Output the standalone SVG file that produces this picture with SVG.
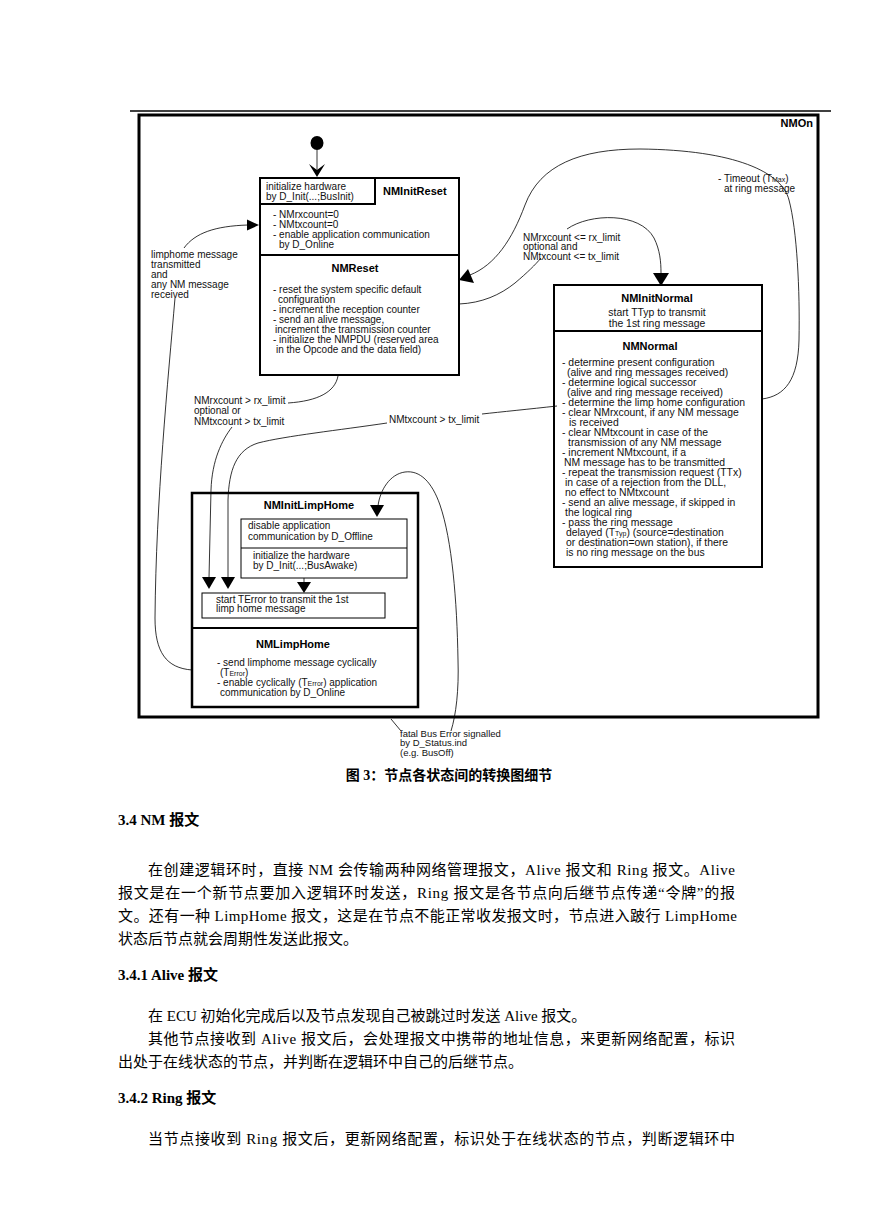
<svg xmlns="http://www.w3.org/2000/svg" width="869" height="1228" viewBox="0 0 869 1228">
<style>
.t{font-family:"Liberation Sans",Arial,sans-serif;font-size:10px;fill:#111}
.n{font-family:"Liberation Sans",Arial,sans-serif;font-size:10.4px;fill:#111}
.s{font-family:"Liberation Sans",Arial,sans-serif;font-size:9.5px;fill:#111}
.b{font-family:"Liberation Sans",Arial,sans-serif;font-size:11px;font-weight:bold;fill:#000}
.m{text-anchor:middle}
.sub{font-size:7px}
.box{fill:#fff;stroke:#000;stroke-width:2}
.thin{fill:#fff;stroke:#000;stroke-width:1}
.con{fill:none;stroke:#000;stroke-width:0.8}
.ah{fill:#000;stroke:none}
.p{font-family:"Liberation Serif","Times New Roman","Noto Sans CJK SC",serif;font-size:15px;fill:#000}
.h{font-family:"Liberation Serif","Times New Roman","Noto Sans CJK SC",serif;font-size:15px;font-weight:bold;fill:#000}
</style>
<rect width="869" height="1228" fill="#fff"/>
<line x1="130" y1="111" x2="831" y2="111" stroke="#000" stroke-width="1.5"/>
<g id="NMOn">
<rect x="139" y="115" width="679" height="602" fill="none" stroke="#000" stroke-width="3"/>
<text class="b" x="813" y="127" text-anchor="end">NMOn</text>
</g>
<g id="initial">
<ellipse cx="317" cy="143" rx="6.5" ry="7" fill="#000"/>
</g>
<g id="NMInitReset">
<rect class="box" x="260" y="178" width="199" height="197"/>
<line x1="260" y1="255" x2="459" y2="255" stroke="#000" stroke-width="2"/>
<rect x="260" y="178" width="115" height="26" fill="none" stroke="#000" stroke-width="2"/>
<text class="t" x="266" y="190">initialize hardware</text>
<text class="t" x="266" y="199.5">by D_Init(...;BusInit)</text>
<text class="b" x="383" y="195">NMInitReset</text>
<text class="t" x="273" y="217.5">- NMrxcount=0</text>
<text class="t" x="273" y="227.5">- NMtxcount=0</text>
<text class="t" x="273" y="237.5">- enable application communication</text>
<text class="t" x="279" y="247.5">by D_Online</text>
<text class="b m" x="355" y="272">NMReset</text>
<text class="t" x="273" y="292.5">- reset the system specific default</text>
<text class="t" x="278" y="302.5">configuration</text>
<text class="t" x="273" y="312.5">- increment the reception counter</text>
<text class="t" x="273" y="322.5">- send an alive message,</text>
<text class="t" x="275" y="332.5">increment the transmission counter</text>
<text class="t" x="273" y="343">- initialize the NMPDU (reserved area</text>
<text class="t" x="276" y="353">in the Opcode and the data field)</text>
</g>
<g id="NMInitNormal">
<rect class="box" x="554" y="285" width="208" height="282"/>
<line x1="554" y1="331" x2="762" y2="331" stroke="#000" stroke-width="2"/>
<text class="b m" x="657" y="302">NMInitNormal</text>
<text class="n m" x="657" y="315.5">start TTyp to transmit</text>
<text class="n m" x="657" y="326.5">the 1st ring message</text>
<text class="b m" x="650" y="350">NMNormal</text>
<text class="n" x="562" y="365.5">- determine present configuration</text>
<text class="n" x="567" y="375.5">(alive and ring messages received)</text>
<text class="n" x="562" y="385.5">- determine logical successor</text>
<text class="n" x="567" y="395.5">(alive and ring message received)</text>
<text class="n" x="562" y="405.5">- determine the limp home configuration</text>
<text class="n" x="562" y="415.5">- clear NMrxcount, if any NM message</text>
<text class="n" x="569" y="425.5">is received</text>
<text class="n" x="562" y="435.5">- clear NMtxcount in case of the</text>
<text class="n" x="568" y="445.5">transmission of any NM message</text>
<text class="n" x="562" y="455.5">- increment NMtxcount, if a</text>
<text class="n" x="564" y="466">NM message has to be transmitted</text>
<text class="n" x="562" y="476">- repeat the transmission request  (TTx)</text>
<text class="n" x="565" y="486">in case of a rejection from the DLL,</text>
<text class="n" x="565" y="496">no effect to NMtxcount</text>
<text class="n" x="562" y="506">- send an alive message, if skipped in</text>
<text class="n" x="565" y="516">the logical ring</text>
<text class="n" x="562" y="526">- pass the ring message</text>
<text class="n" x="566" y="536">delayed (T<tspan class="sub">Typ</tspan>) (source=destination</text>
<text class="n" x="566" y="546">or destination=own station), if there</text>
<text class="n" x="566" y="556">is no ring message on the bus</text>
</g>
<g id="NMInitLimpHome">
<rect x="192" y="493" width="226" height="214" fill="#fff" stroke="#000" stroke-width="2.5"/>
<line x1="192" y1="628" x2="418" y2="628" stroke="#000" stroke-width="2"/>
<text class="b m" x="309" y="509">NMInitLimpHome</text>
<rect class="thin" x="241" y="519" width="166" height="59"/>
<line x1="241" y1="548" x2="407" y2="548" stroke="#000" stroke-width="1"/>
<text class="t" x="248" y="528.5">disable application</text>
<text class="t" x="248" y="539.5">communication by D_Offline</text>
<text class="t" x="253" y="558.5">initialize the hardware</text>
<text class="t" x="253" y="568.5">by D_Init(...;BusAwake)</text>
<rect class="thin" x="202" y="593" width="183" height="25"/>
<text class="t" x="216" y="602.5">start TError to transmit the 1st</text>
<text class="t" x="216" y="612">limp home message</text>
<text class="b m" x="293" y="648">NMLimpHome</text>
<text class="t" x="217" y="665.5">- send limphome message cyclically</text>
<text class="t" x="220" y="676">(T<tspan class="sub">Error</tspan>)</text>
<text class="t" x="217" y="686">- enable cyclically (T<tspan class="sub">Error</tspan>) application</text>
<text class="t" x="220" y="696">communication by D_Online</text>
</g>
<g id="connectors">
<line class="con" x1="317" y1="150" x2="317" y2="172"/>
<polygon class="ah" points="309,164 317,177 325,164 317,170"/>
<path class="con" d="M192,670 C166,668 155,652 155,618 C156,500 168,380 175,298"/>
<path class="con" d="M184,248 C195,233 215,226 248,225"/>
<polygon class="ah" points="247,219.5 259,225 247,230.5"/>
<path class="con" d="M762,399 C785,396 798,380 799,340 C800,290 797,230 789,200 C782,172 735,150 640,149 C580,149 540,165 525,205 C512,240 495,265 470,275"/>
<polygon class="ah" points="459,280 468,269 474,283"/>
<path class="con" d="M459,304 C482,303 500,295 515,283 C528,272 535,265 541,258"/>
<path class="con" d="M567,229 C590,213 640,212 654,238 C660,250 661,262 661,273"/>
<polygon class="ah" points="653,273 669,273 661,286"/>
<path class="con" d="M338,376 C335,392 318,401 288,403"/>
<path class="con" d="M232,427 C222,440 212,460 211,490 L209,578"/>
<polygon class="ah" points="202,577 216,577 209,589"/>
<path class="con" d="M557,406 C530,409 500,412 482,414"/>
<path class="con" d="M387,423 C340,430 285,436 258,443 C236,450 229,470 228,500 L228,578"/>
<polygon class="ah" points="221,577 235,577 228,589"/>
<line class="con" x1="304" y1="578" x2="304" y2="583"/>
<polygon class="ah" points="297,582 311,582 304,593"/>
<path class="con" d="M451,731 C456,715 459,690 458,660 C457,600 452,540 440,505 C432,482 420,470 405,472 C390,474 380,490 378,506"/>
<polygon class="ah" points="370,505 384,505 377,517"/>
<line class="con" x1="391" y1="719" x2="401" y2="731"/>
</g>
<g id="labels">
<text class="t" x="151" y="257.5">limphome message</text>
<text class="t" x="151" y="267.5">transmitted</text>
<text class="t" x="151" y="277.5">and</text>
<text class="t" x="151" y="287.5">any NM message</text>
<text class="t" x="151" y="297.5">received</text>
<text class="t" x="718" y="181.5">- Timeout (T<tspan class="sub">Max</tspan>)</text>
<text class="t" x="724" y="191.5">at  ring message</text>
<text class="t" x="523" y="240.5">NMrxcount &lt;= rx_limit</text>
<text class="t" x="523" y="250">optional and</text>
<text class="t" x="523" y="259.5">NMtxcount &lt;= tx_limit</text>
<text class="t" x="194" y="403.5">NMrxcount &gt; rx_limit</text>
<text class="t" x="194" y="414">optional or</text>
<text class="t" x="194" y="424.5">NMtxcount &gt; tx_limit</text>
<text class="t" x="389" y="422.5">NMtxcount &gt; tx_limit</text>
<text class="s" x="400" y="736.5">fatal Bus Error signalled</text>
<text class="s" x="400" y="746">by D_Status.ind</text>
<text class="s" x="400" y="755.5">(e.g. BusOff)</text>
</g>
<text class="h m" x="449" y="780" style="font-size:14px">图 3：节点各状态间的转换图细节</text>
<g id="body">
<text class="h" x="118" y="825">3.4  NM 报文</text>
<text class="p" x="148" y="875" textLength="587" lengthAdjust="spacing">在创建逻辑环时，直接 NM 会传输两种网络管理报文，Alive 报文和 Ring 报文。Alive</text>
<text class="p" x="118" y="898" textLength="617" lengthAdjust="spacing">报文是在一个新节点要加入逻辑环时发送，Ring 报文是各节点向后继节点传递“令牌”的报</text>
<text class="p" x="118" y="921" textLength="619" lengthAdjust="spacing">文。还有一种 LimpHome 报文，这是在节点不能正常收发报文时，节点进入跛行 LimpHome</text>
<text class="p" x="118" y="944">状态后节点就会周期性发送此报文。</text>
<text class="h" x="118" y="980">3.4.1  Alive 报文</text>
<text class="p" x="148" y="1021">在 ECU 初始化完成后以及节点发现自己被跳过时发送 Alive 报文。</text>
<text class="p" x="148" y="1044" textLength="587" lengthAdjust="spacing">其他节点接收到 Alive 报文后，会处理报文中携带的地址信息，来更新网络配置，标识</text>
<text class="p" x="118" y="1067">出处于在线状态的节点，并判断在逻辑环中自己的后继节点。</text>
<text class="h" x="118" y="1103">3.4.2  Ring 报文</text>
<text class="p" x="148" y="1144" textLength="587" lengthAdjust="spacing">当节点接收到 Ring 报文后，更新网络配置，标识处于在线状态的节点，判断逻辑环中</text>
</g>
</svg>
